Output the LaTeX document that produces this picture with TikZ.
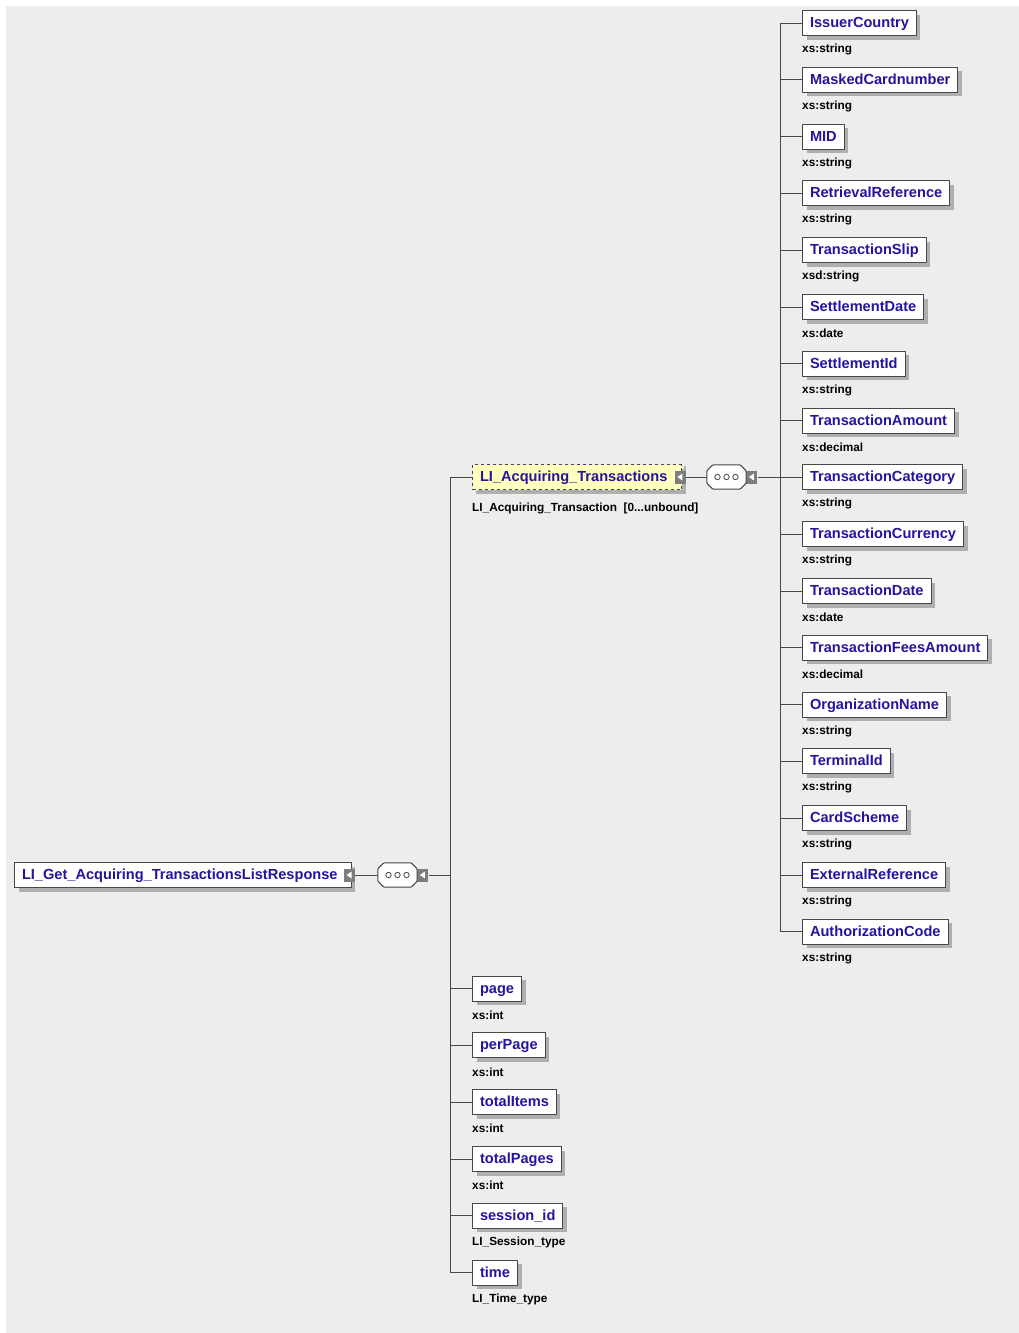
\documentclass[tikz,border=0pt]{standalone}
\usepackage{fontspec}
\setmainfont{Liberation Sans}
\usetikzlibrary{shadows}
\definecolor{bgGray}{RGB}{237,237,237}
\definecolor{elBlue}{RGB}{36,20,158}
\definecolor{lnGray}{RGB}{72,72,72}
\definecolor{shGray}{RGB}{175,175,175}
\definecolor{optYellow}{RGB}{255,255,190}
\definecolor{expGray}{RGB}{125,125,125}
\tikzset{
  conn/.style={draw=lnGray,line width=1pt},
  elem/.style={draw=lnGray,line width=1pt,fill=white,text=elBlue,anchor=west,
    font=\bfseries\fontsize{14.6}{16}\selectfont,inner xsep=7.5pt,inner ysep=0pt,
    text height=10.5pt,text depth=1.5pt,minimum height=25pt,
    general shadow={fill=shGray,shadow xshift=4pt,shadow yshift=-4pt}},
  optelem/.style={elem,fill=optYellow,dashed,
    general shadow={draw=shGray,fill=none,line width=2.5pt,dash pattern=on 4pt off 3pt,shadow xshift=3pt,shadow yshift=-3pt}},
  typ/.style={font=\bfseries\fontsize{11.8}{13}\selectfont,anchor=west,inner sep=0pt},
  expbtn/.style={fill=expGray,minimum width=11pt,minimum height=13pt,inner sep=0pt,
    path picture={\fill[white] ([xshift=-3pt]path picture bounding box.center) -- ++(5pt,3.5pt) -- ++(0,-7pt) -- cycle;}},
  seqbox/.style={minimum width=39pt,minimum height=24pt,inner sep=0pt},
  seqedge/.style={draw=lnGray,line width=1pt,fill=white,rounded corners=1pt}
}
\begin{document}
\begin{tikzpicture}[x=1pt,y=-1pt]
\fill[bgGray] (6,6) rectangle (1019,1333);
\useasboundingbox (0,0) rectangle (1019,1333);
% root and first sequence
\node[elem] (root) at (14,875) {LI\_Get\_Acquiring\_TransactionsListResponse\rule{6pt}{0pt}};
\node[expbtn,xshift=-2pt] (rootX) at (root.east) {};
\node[seqbox] (seqA) at (397.5,875) {};
\node[expbtn,anchor=west] (seqAX) at (seqA.east) {};
\coordinate (busA) at (450,875);
\draw[conn] (rootX.east) -- (seqA.west);
\draw[conn] (seqAX.east) -- (busA);
% optional list element
\node[optelem] (acq) at (472,477) {LI\_Acquiring\_Transactions\rule{7pt}{0pt}};
\node[typ] (acqT) at (472,508) {LI\_Acquiring\_Transaction\ \ [0...unbound]};
\node[expbtn,xshift=-2pt] (acqX) at (acq.east) {};
\draw[conn] (busA) |- (acq.west);
\node[seqbox] (seqB) at (726.5,477) {};
\node[expbtn,anchor=west] (seqBX) at (seqB.east) {};
\coordinate (busB) at (780,477);
\draw[conn] (acqX.east) -- (seqB.west);
\draw[conn] (seqBX.east) -- (busB);
% sequence compositors
\foreach \s in {seqA,seqB}{
  \fill[shGray,xshift=3pt,yshift=-3pt] ([xshift=6pt]\s.north west) -- ([xshift=-6pt]\s.north east)
    -- ([yshift=-6pt]\s.north east) -- ([yshift=6pt]\s.south east) -- ([xshift=-6pt]\s.south east)
    -- ([xshift=6pt]\s.south west) -- ([yshift=6pt]\s.south west) -- ([yshift=-6pt]\s.north west) -- cycle;
  \draw[seqedge] ([xshift=6pt]\s.north west) -- ([xshift=-6pt]\s.north east)
    -- ([yshift=-6pt]\s.north east) -- ([yshift=6pt]\s.south east) -- ([xshift=-6pt]\s.south east)
    -- ([xshift=6pt]\s.south west) -- ([yshift=6pt]\s.south west) -- ([yshift=-6pt]\s.north west) -- cycle;
  \foreach \dx in {-9,0,9}
    \draw[lnGray,line width=0.8pt] ([xshift=\dx pt]\s.center) circle[radius=2.7pt];
}
% transaction fields
\foreach \nm/\tp [count=\i from 0] in {IssuerCountry/xs:string,MaskedCardnumber/xs:string,
    MID/xs:string,RetrievalReference/xs:string,TransactionSlip/xsd:string,SettlementDate/xs:date,
    SettlementId/xs:string,TransactionAmount/xs:decimal,TransactionCategory/xs:string,
    TransactionCurrency/xs:string,TransactionDate/xs:date,TransactionFeesAmount/xs:decimal,
    OrganizationName/xs:string,TerminalId/xs:string,CardScheme/xs:string,
    ExternalReference/xs:string,AuthorizationCode/xs:string}{
  \node[elem] (\nm) at (802,23+56.8*\i) {\nm};
  \node[typ] (\nm T) at (802,49.5+56.8*\i) {\tp};
  \draw[conn] (busB) |- (\nm.west);
}
% paging fields
\foreach \nm/\txt/\tp [count=\i from 17] in {page/page/xs:int,perPage/perPage/xs:int,
    totalItems/totalItems/xs:int,totalPages/totalPages/xs:int,
    sessionid/session\_id/LI\_Session\_type,time/time/LI\_Time\_type}{
  \node[elem] (\nm) at (472,23+56.8*\i) {\txt};
  \node[typ] (\nm T) at (472,49.5+56.8*\i) {\tp};
  \draw[conn] (busA) |- (\nm.west);
}
\end{tikzpicture}
\end{document}
